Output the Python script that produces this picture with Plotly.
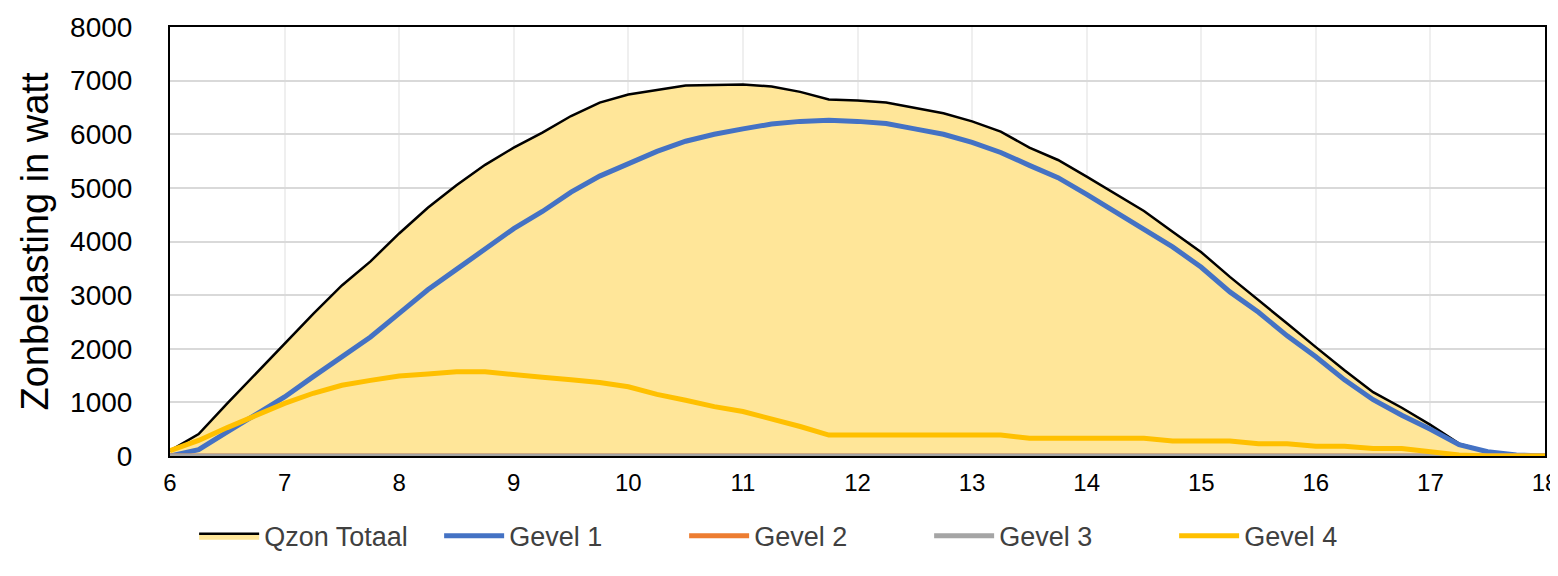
import plotly.graph_objects as go

hours = [6 + 0.25 * i for i in range(49)]

gevel1 = [0, 120, 450, 780, 1100, 1480, 1860, 2220, 2660, 3100, 3480, 3860, 4240,
          4560, 4920, 5220, 5450, 5680, 5870, 6000, 6100, 6190, 6240, 6260, 6240,
          6200, 6100, 6000, 5850, 5660, 5420, 5190, 4880, 4560, 4240, 3900, 3520,
          3060, 2680, 2240, 1850, 1420, 1050, 760, 500, 210, 80, 20, 0]
gevel2 = [0] * 49
gevel3 = [0] * 49
gevel4 = [100, 290, 530, 760, 980, 1170, 1320, 1410, 1490, 1530, 1570, 1570, 1510,
          1470, 1420, 1370, 1290, 1150, 1040, 920, 830, 700, 550, 390, 390,
          390, 390, 390, 390, 390, 330, 330, 330, 330, 330, 280, 280,
          280, 230, 230, 180, 180, 140, 140, 80, 20, 0, 0, 0]
totaal = [a + b + c + d for a, b, c, d in zip(gevel1, gevel2, gevel3, gevel4)]

x_ticks = list(range(6, 19))
y_ticks = list(range(0, 8001, 1000))

fig = go.Figure()
fig.add_trace(go.Scatter(x=hours, y=totaal, name="Qzon Totaal", mode="lines",
                         fill="tozeroy", fillcolor="#FFE699",
                         line=dict(color="black", width=2.5)))
fig.add_trace(go.Scatter(x=hours, y=gevel1, name="Gevel 1", mode="lines",
                         line=dict(color="#4472C4", width=5)))
fig.add_trace(go.Scatter(x=hours, y=gevel2, name="Gevel 2", mode="lines",
                         line=dict(color="#ED7D31", width=5)))
fig.add_trace(go.Scatter(x=hours, y=gevel3, name="Gevel 3", mode="lines",
                         line=dict(color="#A5A5A5", width=5)))
fig.add_trace(go.Scatter(x=hours, y=gevel4, name="Gevel 4", mode="lines",
                         line=dict(color="#FFC000", width=5)))

font_family = "Liberation Sans, Arial, sans-serif"
fig.update_layout(
    width=1550, height=568,
    margin=dict(l=162, r=13, t=19, b=120),
    paper_bgcolor="white", plot_bgcolor="white",
    font=dict(family=font_family, color="#000000", size=24),
    showlegend=True,
    legend=dict(orientation="h", x=0.463, xanchor="center", y=-0.13, yanchor="top",
                font=dict(size=27, color="#404040"), itemwidth=60,
                entrywidth=170, entrywidthmode="pixels", traceorder="normal"),
    xaxis=dict(range=[6, 18], tickmode="array", tickvals=x_ticks,
               ticktext=[str(v) for v in x_ticks], automargin=False,
               ticklabeloverflow="allow", ticklabelstandoff=4,
               showgrid=True, gridcolor="#EFEFEF", gridwidth=2,
               showline=True, linecolor="black", linewidth=2, mirror=True,
               zeroline=False, ticks="", tickfont=dict(size=24)),
    yaxis=dict(range=[0, 8000], tickmode="array", tickvals=y_ticks,
               ticktext=[str(v) for v in y_ticks], automargin=False,
               ticklabelstandoff=30,
               showgrid=True, gridcolor="#D9D9D9", gridwidth=2,
               showline=True, linecolor="black", linewidth=2, mirror=True,
               zeroline=False, ticks="", tickfont=dict(size=28),
               title=dict(text="Zonbelasting in watt", font=dict(size=38), standoff=10)),
)

fig.write_html("out.html")
